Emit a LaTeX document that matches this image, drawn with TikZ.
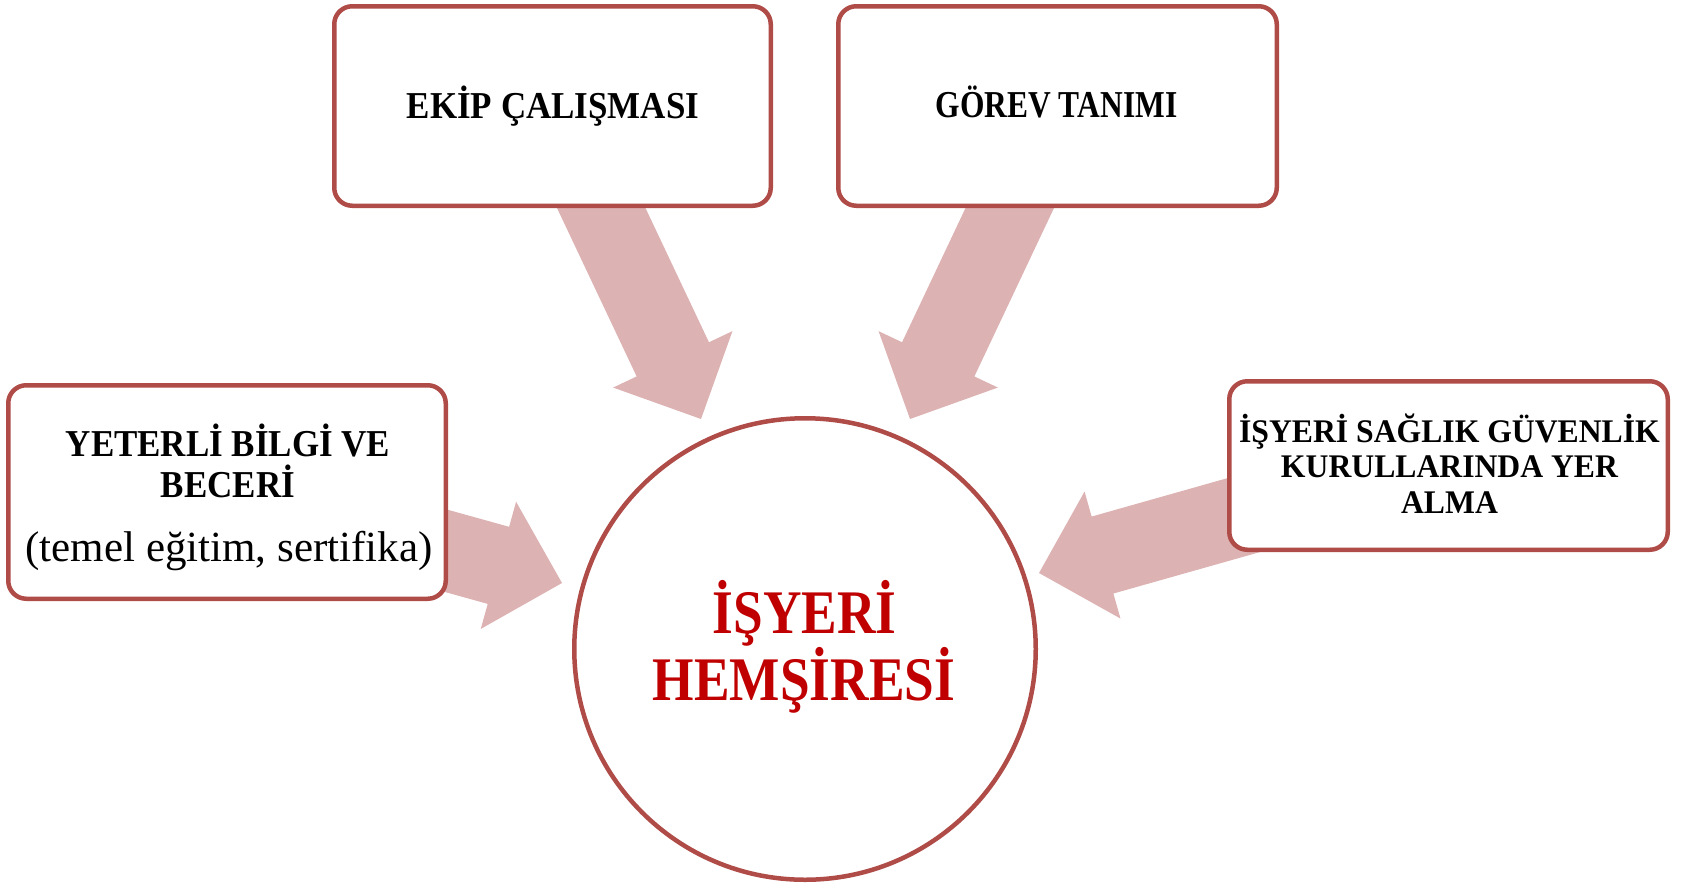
\documentclass[tikz,border=0pt]{standalone}
\usepackage{fontspec}
\setmainfont{Liberation Serif}
\newfontfamily\condserif[FakeStretch=0.92]{Liberation Serif}
\newfontfamily\boxserif[FakeStretch=0.96]{Liberation Serif}
\newfontfamily\centserif[FakeStretch=0.86]{Liberation Serif}
\usetikzlibrary{calc}
\definecolor{bordr}{RGB}{176,76,72}
\definecolor{arrowpink}{RGB}{221,178,179}
\definecolor{titlered}{RGB}{192,0,0}
\tikzset{
  box/.style={rectangle, draw=bordr, line width=4.5pt, rounded corners=18pt, fill=white, inner sep=0pt},
  hub/.style={circle, draw=bordr, line width=4.5pt, fill=white, minimum size=461.5pt, inner sep=0pt},
  toptitle/.style={anchor=base, inner sep=0pt, font=\condserif\bfseries\fontsize{38}{40}\selectfont},
  lefttitle/.style={anchor=base, inner sep=0pt, font=\condserif\bfseries\fontsize{38}{40}\selectfont},
  leftsub/.style={anchor=base, inner sep=0pt, font=\rmfamily\fontsize{43}{45}\selectfont},
  righttitle/.style={anchor=base, inner sep=0pt, font=\boxserif\bfseries\fontsize{33}{35}\selectfont},
  centtitle/.style={anchor=base, inner sep=0pt, text=titlered, font=\centserif\bfseries\fontsize{62}{64}\selectfont},
  blockfill/.style={fill=arrowpink}
}
\newcommand{\blockarrow}[2]{%
  \coordinate (hb) at ($(#2)!66pt!(#1)$);
  \fill[blockfill] ($(#1)!40pt!90:(#2)$) -- ($(hb)!40pt!90:(#2)$) -- ($(hb)!66pt!90:(#2)$) -- (#2)
    -- ($(hb)!66pt!-90:(#2)$) -- ($(hb)!40pt!-90:(#2)$) -- ($(#1)!40pt!-90:(#2)$) -- cycle;}
\begin{document}
\begin{tikzpicture}[x=1pt,y=-1pt]
\useasboundingbox (0,0) rectangle (1688,884);
% arrow start/end points
\coordinate (a1s) at (400,538);  \coordinate (a1t) at (562,583);
\coordinate (a2s) at (588,180);  \coordinate (a2t) at (701,419);
\coordinate (a3s) at (1023,180); \coordinate (a3t) at (910,419);
\coordinate (a4s) at (1290,502); \coordinate (a4t) at (1039,573);
\blockarrow{a1s}{a1t}
\blockarrow{a2s}{a2t}
\blockarrow{a3s}{a3t}
\blockarrow{a4s}{a4t}
% boxes
\node[box, minimum width=436.5pt, minimum height=199.5pt] (ekip) at (552.5,106) {};
\node[box, minimum width=438.5pt, minimum height=199.5pt] (gorev) at (1057.5,106) {};
\node[box, minimum width=437.5pt, minimum height=213.5pt] (yet) at (227,492) {};
\node[box, minimum width=438.5pt, minimum height=168.5pt] (isg) at (1448.5,465.5) {};
\node[hub] (hub) at (805,649) {};
% texts
\node[toptitle] (ekipT) at (553,118) {EKİP ÇALIŞMASI};
\node[toptitle] (gorevT) at (1056.5,117) {\scalebox{0.9}[1]{GÖREV TANIMI}};
\node[lefttitle] (yet1) at (228,456) {YETERLİ BİLGİ VE};
\node[lefttitle] (yet2) at (228,497) {BECERİ};
\node[leftsub] (yet3) at (229,561) {(temel eğitim, sertifika)};
\node[righttitle] (isg1) at (1449.5,442) {İŞYERİ SAĞLIK GÜVENLİK};
\node[righttitle] (isg2) at (1449.5,477) {KURULLARINDA YER};
\node[righttitle] (isg3) at (1449.5,513) {ALMA};
\node[centtitle] (hub1) at (804.5,633) {İŞYERİ};
\node[centtitle] (hub2) at (804,700) {HEMŞİRESİ};
\end{tikzpicture}
\end{document}
